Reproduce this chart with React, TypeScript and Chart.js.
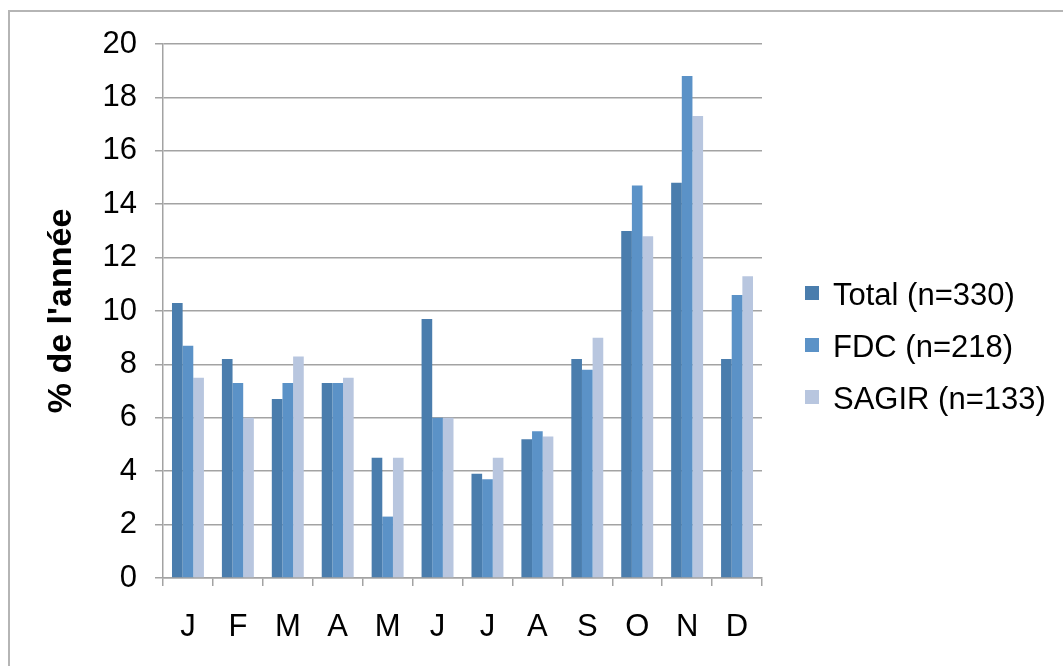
import React, { useEffect, useRef } from "react";
import { Chart, registerables } from "chart.js";

Chart.register(...registerables);

const months = ["J", "F", "M", "A", "M", "J", "J", "A", "S", "O", "N", "D"];
const totalValues = [10.3, 8.2, 6.7, 7.3, 4.5, 9.7, 3.9, 5.2, 8.2, 13.0, 14.8, 8.2];
const fdcValues = [8.7, 7.3, 7.3, 7.3, 2.3, 6.0, 3.7, 5.5, 7.8, 14.7, 18.8, 10.6];
const sagirValues = [7.5, 6.0, 8.3, 7.5, 4.5, 6.0, 4.5, 5.3, 9.0, 12.8, 17.3, 11.3];
const seriesLabels = ["Total (n=330)", "FDC (n=218)", "SAGIR (n=133)"];
const seriesColors = ["#4a7dad", "#5b92c7", "#b8c6df"];
const yTitle = "% de l'année";

const FONT = "'Liberation Sans', Arial, Helvetica, sans-serif";
const GRID = "#a3a3a3";

const framePlugin = {
  id: "frame",
  beforeDraw(chart: any) {
    const ctx = chart.ctx;
    ctx.save();
    ctx.fillStyle = "#ffffff";
    ctx.fillRect(0, 0, chart.width, chart.height);
    ctx.strokeStyle = "#b5b5b5";
    ctx.lineWidth = 2;
    ctx.strokeRect(9, 11, chart.width + 20, chart.height + 20);
    ctx.restore();
  },
};

const sideLegendPlugin = {
  id: "sideLegend",
  afterDraw(chart: any) {
    const ctx = chart.ctx;
    const left = chart.chartArea.right + 43;
    ctx.save();
    ctx.font = `31px ${FONT}`;
    ctx.textBaseline = "middle";
    ctx.textAlign = "left";
    chart.data.datasets.forEach((ds: any, i: number) => {
      const cy = 296 + i * 52;
      ctx.fillStyle = ds.backgroundColor;
      ctx.fillRect(left, cy - 10, 14, 14);
      ctx.fillStyle = "#000";
      ctx.fillText(ds.label, left + 28, cy);
    });
    ctx.restore();
  },
};

export default function App() {
  const ref = useRef<HTMLCanvasElement | null>(null);
  useEffect(() => {
    if (!ref.current) return;
    const chart = new Chart(ref.current, {
      type: "bar",
      data: {
        labels: months,
        datasets: [totalValues, fdcValues, sagirValues].map((d, i) => ({
          label: seriesLabels[i],
          data: d,
          backgroundColor: seriesColors[i],
          borderWidth: 0,
          barPercentage: 1,
          categoryPercentage: 0.64,
        })),
      },
      options: {
        responsive: false,
        animation: false,
        layout: { padding: { top: 44, bottom: 16, left: 38, right: 301 } },
        plugins: {
          tooltip: { enabled: false },
          legend: { display: false },
        },
        scales: {
          x: {
            grid: {
              display: true,
              drawOnChartArea: false,
              drawTicks: true,
              tickLength: 8,
              color: GRID,
              lineWidth: 1.5,
              offset: true,
            },
            border: { display: true, color: GRID, width: 1.5 },
            ticks: { color: "#000", font: { family: FONT, size: 31 }, padding: 23, maxRotation: 0 },
            afterFit: (s: any) => {
              s.height = 72;
            },
          },
          y: {
            min: 0,
            max: 20,
            ticks: { stepSize: 2, color: "#000", font: { family: FONT, size: 31 }, padding: 18 },
            grid: { color: GRID, lineWidth: 1.5, tickLength: 8 },
            border: { display: true, color: GRID, width: 1.5 },
            title: {
              display: true,
              text: yTitle,
              color: "#000",
              font: { family: FONT, size: 34, weight: "bold" },
              padding: { top: 3, bottom: 0 },
            },
            afterFit: (s: any) => {
              s.width = 125;
            },
          },
        },
      },
      plugins: [framePlugin, sideLegendPlugin],
    } as any);
    return () => chart.destroy();
  }, []);
  return (
    <div style={{ position: "absolute", left: 0, top: 0, width: 1063, height: 666 }}>
      <canvas ref={ref} width={1063} height={666} style={{ display: "block" }} />
    </div>
  );
}
